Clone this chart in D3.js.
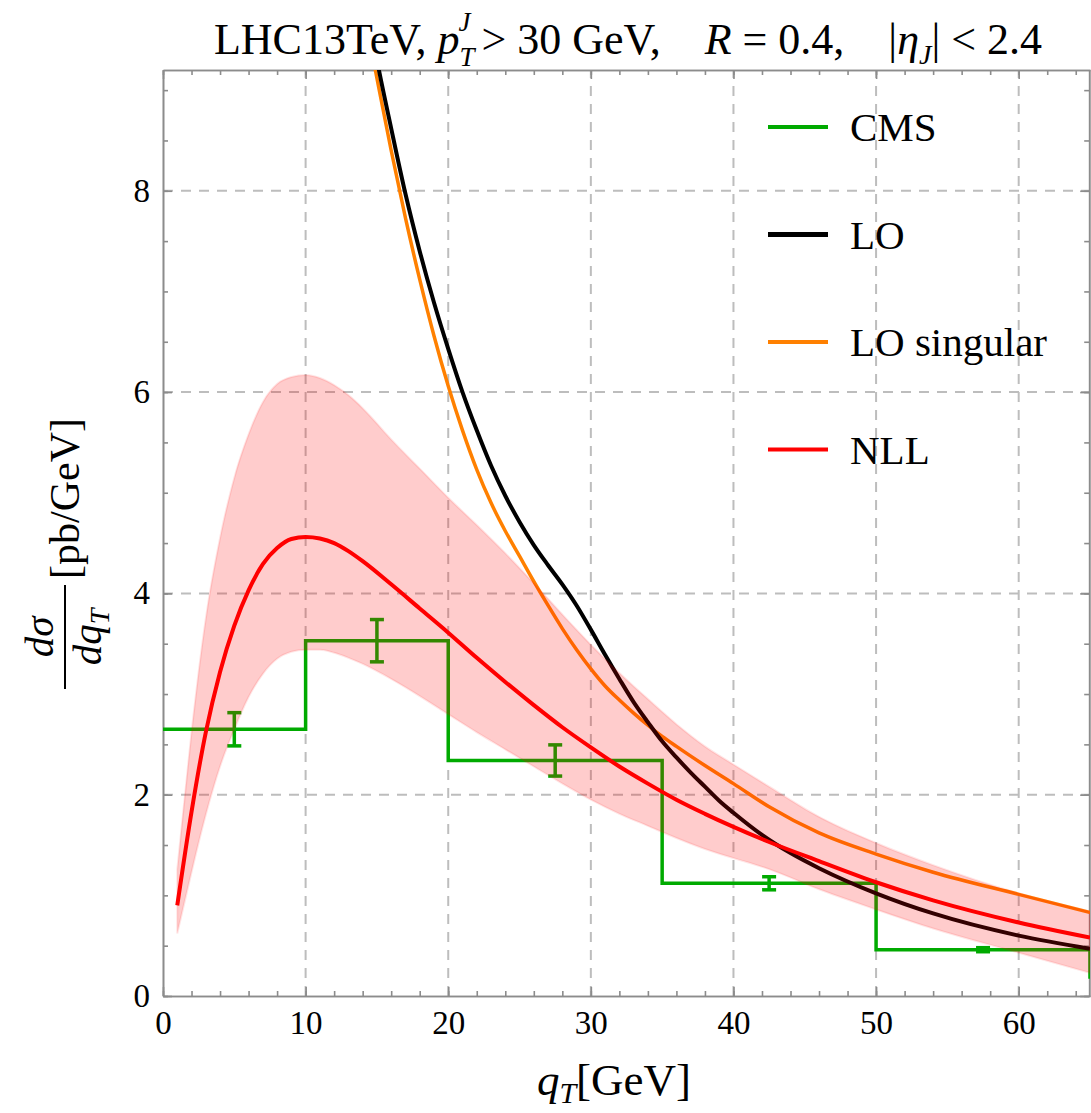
<!DOCTYPE html>
<html>
<head>
<meta charset="utf-8">
<script src="https://cdn.jsdelivr.net/npm/d3@7"></script>
<style>
  body { margin: 0; background: #fff; }
  svg text { font-family: 'Liberation Serif', 'DejaVu Serif', serif; fill: #000; }
</style>
</head>
<body>
<div id="chart"></div>
<script>
var width = 1091,
    height = 1113,
    margin = {left: 163, top: 70, right: 1, bottom: 117},
    serif = "'Liberation Serif', 'DejaVu Serif', serif";

// CMS histogram
var cmsEdges = [0, 10, 20, 35, 50, 65, 80];
var cmsVals = [2.65, 3.53, 2.34, 1.12, 0.46, 0.19];
var cmsCenters = [5, 15, 27.5, 42.5, 57.5];
var cmsErr = [0.165, 0.21, 0.155, 0.065, 0.02];

// NLL with band
var qNLL = [1, 2, 3, 4, 5, 6, 7, 8, 9, 10, 11, 12, 13, 14, 16, 18, 20, 22, 24, 26, 28, 30, 32, 34, 36, 38, 40, 42.5, 46, 50, 54, 60, 65];
var nll = [0.90, 1.83, 2.62, 3.22, 3.68, 4.03, 4.29, 4.45, 4.54, 4.56, 4.545, 4.50, 4.42, 4.32, 4.09, 3.85, 3.61, 3.36, 3.12, 2.89, 2.67, 2.47, 2.28, 2.11, 1.95, 1.81, 1.68, 1.53, 1.34, 1.13, 0.95, 0.73, 0.58];
var nllUp = [1.26, 2.62, 3.75, 4.55, 5.15, 5.58, 5.90, 6.08, 6.15, 6.17, 6.14, 6.07, 5.97, 5.84, 5.53, 5.24, 4.95, 4.68, 4.40, 4.10, 3.79, 3.49, 3.21, 2.95, 2.70, 2.48, 2.30, 2.08, 1.78, 1.52, 1.30, 1.02, 0.84];
var nllLo = [0.62, 1.23, 1.80, 2.28, 2.65, 2.97, 3.20, 3.35, 3.42, 3.44, 3.44, 3.41, 3.36, 3.30, 3.15, 2.98, 2.80, 2.62, 2.45, 2.28, 2.11, 1.95, 1.81, 1.69, 1.57, 1.46, 1.37, 1.26, 1.06, 0.86, 0.67, 0.43, 0.23];

// LO
var qLO = [14.6, 15, 16, 17, 18, 19, 20, 21, 22, 23, 24, 25, 26, 27, 28, 29, 30, 31, 32, 33, 34, 35, 36, 37, 38, 39, 40, 42, 44, 46, 50, 54, 60, 65];
var lo = [9.60, 9.30, 8.62, 7.97, 7.40, 6.89, 6.43, 6.00, 5.62, 5.27, 4.97, 4.71, 4.48, 4.28, 4.09, 3.88, 3.64, 3.39, 3.15, 2.92, 2.72, 2.53, 2.37, 2.22, 2.08, 1.94, 1.82, 1.60, 1.42, 1.27, 1.02, 0.82, 0.60, 0.47];

// LO singular
var qSing = [14.4, 15, 16, 17, 18, 19, 20, 21, 22, 23, 24, 25, 26, 27, 28, 29, 30, 31, 32, 33, 34, 35, 36, 38, 40, 42.5, 46, 50, 54, 60, 65];
var loSing = [9.56, 9.12, 8.40, 7.73, 7.12, 6.56, 6.06, 5.62, 5.23, 4.90, 4.62, 4.37, 4.12, 3.88, 3.65, 3.44, 3.25, 3.08, 2.94, 2.81, 2.69, 2.58, 2.48, 2.29, 2.11, 1.88, 1.62, 1.41, 1.23, 1.01, 0.83];

var xMajor = [0, 10, 20, 30, 40, 50, 60];
var yMajor = [0, 2, 4, 6, 8];
var xGrid = [10, 20, 30, 40, 50, 60];
var yGrid = [2, 4, 6, 8];

var legendNames = ["CMS", "LO", "LO singular", "NLL"];
var legendColors = ["#00aa00", "#000000", "#ff8000", "#ff0000"];

var x = d3.scaleLinear().domain([0, 65]).range([margin.left, width - margin.right]);
var y = d3.scaleLinear().domain([0, 9.2]).range([height - margin.bottom, margin.top]);

var svg = d3.select("#chart").append("svg")
    .attr("width", width)
    .attr("height", height);

svg.append("clipPath").attr("id", "plot")
  .append("rect")
    .attr("x", x(0)).attr("y", y(9.2))
    .attr("width", x(65) - x(0)).attr("height", y(0) - y(9.2));

// grid
var grid = svg.append("g")
    .attr("stroke", "#bdbdbd")
    .attr("stroke-width", 2)
    .attr("stroke-dasharray", "10,8");
grid.selectAll(".gx").data(xGrid).enter().append("line")
    .attr("x1", function(d) { return x(d); }).attr("x2", function(d) { return x(d); })
    .attr("y1", y(0)).attr("y2", y(9.2));
grid.selectAll(".gy").data(yGrid).enter().append("line")
    .attr("y1", function(d) { return y(d); }).attr("y2", function(d) { return y(d); })
    .attr("x1", x(0)).attr("x2", x(65));

// axes (frame with inward ticks)
function minor(a, b, s) { return d3.range(a, b + 1e-9, s); }
function styleAxis(g) {
  g.attr("font-family", null);
  g.selectAll("path,line").attr("stroke", "#8c8c8c").attr("stroke-width", 1.6);
  g.selectAll("text").style("font-family", serif).style("font-size", "33px").attr("fill", "#000");
}

svg.append("g").attr("transform", "translate(0," + y(0) + ")")
    .call(d3.axisBottom(x).tickValues(minor(0, 64, 2)).tickSize(-5).tickSizeOuter(0).tickFormat(""))
    .call(styleAxis);
svg.append("g").attr("transform", "translate(0," + y(0) + ")")
    .call(d3.axisBottom(x).tickValues(xMajor).tickSize(-9).tickSizeOuter(0).tickPadding(15))
    .call(styleAxis);
svg.append("g").attr("transform", "translate(0," + y(9.2) + ")")
    .call(d3.axisTop(x).tickValues(minor(0, 64, 2)).tickSize(-5).tickSizeOuter(0).tickFormat(""))
    .call(styleAxis);
svg.append("g").attr("transform", "translate(0," + y(9.2) + ")")
    .call(d3.axisTop(x).tickValues(xMajor).tickSize(-9).tickSizeOuter(0).tickFormat(""))
    .call(styleAxis);
svg.append("g").attr("transform", "translate(" + x(0) + ",0)")
    .call(d3.axisLeft(y).tickValues(minor(0, 9, 0.5)).tickSize(-5).tickSizeOuter(0).tickFormat(""))
    .call(styleAxis);
svg.append("g").attr("transform", "translate(" + x(0) + ",0)")
    .call(d3.axisLeft(y).tickValues(yMajor).tickSize(-9).tickSizeOuter(0).tickPadding(13))
    .call(styleAxis);
svg.append("g").attr("transform", "translate(" + (x(65) - 0.8) + ",0)")
    .call(d3.axisRight(y).tickValues(minor(0, 9, 0.5)).tickSize(-5).tickSizeOuter(0).tickFormat(""))
    .call(styleAxis);
svg.append("g").attr("transform", "translate(" + (x(65) - 0.8) + ",0)")
    .call(d3.axisRight(y).tickValues(yMajor).tickSize(-9).tickSizeOuter(0).tickFormat(""))
    .call(styleAxis);

var plot = svg.append("g").attr("clip-path", "url(#plot)");

// CMS step histogram
var steps = [[cmsEdges[0] - 1, cmsVals[0]]];
cmsVals.forEach(function(v, i) {
  steps.push([cmsEdges[i], v]);
  steps.push([cmsEdges[i + 1], v]);
});
plot.append("path")
    .datum(steps)
    .attr("fill", "none")
    .attr("stroke", "#00aa00")
    .attr("stroke-width", 3.5)
    .attr("d", d3.line().x(function(d) { return x(d[0]); }).y(function(d) { return y(d[1]); }));

var eb = plot.append("g").attr("stroke", "#00aa00").attr("stroke-width", 3.5);
cmsCenters.forEach(function(c, i) {
  var v = cmsVals[i], e = cmsErr[i];
  eb.append("line").attr("x1", x(c)).attr("x2", x(c)).attr("y1", y(v - e)).attr("y2", y(v + e));
  eb.append("line").attr("x1", x(c) - 7).attr("x2", x(c) + 7).attr("y1", y(v - e)).attr("y2", y(v - e));
  eb.append("line").attr("x1", x(c) - 7).attr("x2", x(c) + 7).attr("y1", y(v + e)).attr("y2", y(v + e));
});

function curveOf(qs, vs) {
  return qs.map(function(q, i) { return [q, vs[i]]; });
}
var line = d3.line()
    .x(function(d) { return x(d[0]); })
    .y(function(d) { return y(d[1]); })
    .curve(d3.curveMonotoneX);

plot.append("path").datum(curveOf(qSing, loSing))
    .attr("fill", "none").attr("stroke", "#ff8000").attr("stroke-width", 3.5).attr("d", line);
plot.append("path").datum(curveOf(qLO, lo))
    .attr("fill", "none").attr("stroke", "#000").attr("stroke-width", 4).attr("d", line);
plot.append("path").datum(curveOf(qNLL, nll))
    .attr("fill", "none").attr("stroke", "#ff0000").attr("stroke-width", 4).attr("d", line);

// NLL uncertainty band on top
var band = d3.area()
    .x(function(d, i) { return x(qNLL[i]); })
    .y0(function(d, i) { return y(nllLo[i]); })
    .y1(function(d, i) { return y(nllUp[i]); })
    .curve(d3.curveMonotoneX);
plot.append("path").datum(qNLL)
    .attr("fill", "#ff0000").attr("fill-opacity", 0.2)
    .attr("stroke", "#ff0000").attr("stroke-opacity", 0.1).attr("stroke-width", 2)
    .attr("d", band);

// legend
var leg = svg.append("g");
legendNames.forEach(function(name, i) {
  var ly = 127 + i * 107.5;
  leg.append("line").attr("x1", 768).attr("x2", 828).attr("y1", ly).attr("y2", ly)
      .attr("stroke", legendColors[i]).attr("stroke-width", i === 1 ? 5 : 4);
  leg.append("text").attr("x", 850).attr("y", ly + 14)
      .style("font-family", serif).style("font-size", "41px").text(name);
});

// title
var title = svg.append("text").attr("x", 628).attr("y", 54).attr("text-anchor", "middle")
    .style("font-family", serif).style("font-size", "44px").style("white-space", "pre");
title.append("tspan").text("LHC13TeV, ");
title.append("tspan").style("font-style", "italic").text("p");
title.append("tspan").attr("dy", 12).style("font-size", "27px").style("font-style", "italic").text("T");
title.append("tspan").attr("dx", -16).attr("dy", -35).style("font-size", "27px").style("font-style", "italic").text("J");
title.append("tspan").attr("dy", 23).text(" > 30 GeV,    ");
title.append("tspan").style("font-style", "italic").text("R");
title.append("tspan").text(" = 0.4,    |");
title.append("tspan").style("font-style", "italic").text("η");
title.append("tspan").attr("dy", 10).style("font-size", "28px").style("font-style", "italic").text("J");
title.append("tspan").attr("dy", -10).text("| < 2.4");

// x axis label
var xl = svg.append("text").attr("x", 614).attr("y", 1095).attr("text-anchor", "middle")
    .style("font-family", serif).style("font-size", "45px");
xl.append("tspan").style("font-style", "italic").text("q");
xl.append("tspan").attr("dy", 8).style("font-size", "30px").style("font-style", "italic").text("T");
xl.append("tspan").attr("dy", -8).text("[GeV]");

// y axis label (rotated fraction)
var yl = svg.append("g").attr("transform", "translate(65,637) rotate(-90)");
var num = yl.append("text").attr("x", 0).attr("y", -12).attr("text-anchor", "middle")
    .style("font-family", serif).style("font-size", "41px");
num.append("tspan").style("font-style", "italic").text("dσ");
yl.append("line").attr("x1", -52).attr("x2", 52).attr("y1", 0).attr("y2", 0)
    .attr("stroke", "#000").attr("stroke-width", 2);
var den = yl.append("text").attr("x", 0).attr("y", 36).attr("text-anchor", "middle")
    .style("font-family", serif).style("font-size", "41px");
den.append("tspan").style("font-style", "italic").text("dq");
den.append("tspan").attr("dy", 8).style("font-size", "28px").style("font-style", "italic").text("T");
yl.append("text").attr("x", 58).attr("y", 14)
    .style("font-family", serif).style("font-size", "42px").text("[pb/GeV]");
</script>
</body>
</html>
